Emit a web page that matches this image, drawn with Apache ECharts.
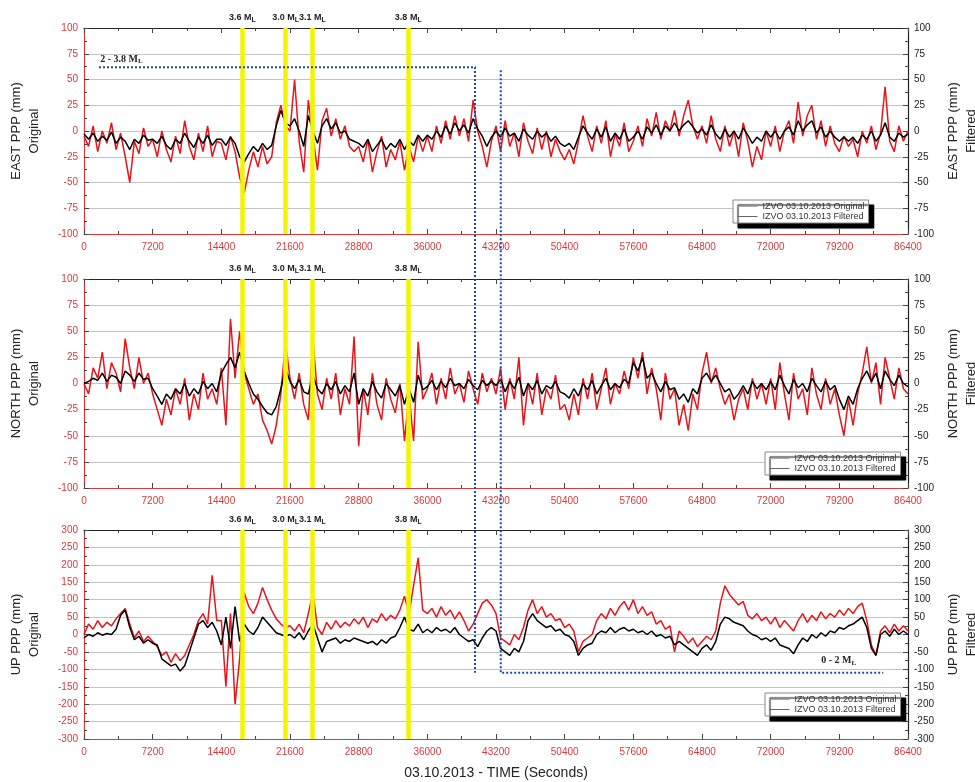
<!DOCTYPE html>
<html><head><meta charset="utf-8">
<script src="https://cdn.jsdelivr.net/npm/echarts@6/dist/echarts.min.js"></script>
<style>html,body{margin:0;padding:0;background:#fff}#c{width:975px;height:782px}</style>
</head><body><div id="c"></div>
<script>
// ---- data (sample step 480 s, 0..86400) ----
const STEP = 480;
const xTicks = [0,7200,14400,21600,28800,36000,43200,50400,57600,64800,72000,79200,86400];
const panelNames = ['EAST PPP (mm)','NORTH PPP (mm)','UP PPP (mm)'];
const seriesNames = ['IZVO 03.10.2013 Original','IZVO 03.10.2013 Filtered'];
const eventTimes = [16600, 21150, 23940, 34000];
const eventMags = ['3.6','3.0','3.1','3.8'];
const highBracket = [[1573,62,0],[41000,62,0],[41000,-110,2]];
const lowBracket = [[43700,59,0],[43700,-110,2],[83800,-110,2]];
const highLabel = ['2 - 3.8 M','L',1700,62,0];
const lowLabel = ['0 - 2 M','L',77300,-97,2];

const eastOrig = [
-5,-15,5,-20,0,-12,8,-18,-2,-25,-50,-10,-22,3,-15,
-8,-25,0,-18,-30,-5,-22,10,-15,-28,-2,-20,5,-25,-10,
-12,-28,-5,-20,-45,-60,-38,-20,-35,-15,-32,-25,8,25,5,
0,50,-10,-40,30,-5,-38,10,22,-5,12,-8,5,-15,-20,
-15,-30,-8,-40,-20,-5,-35,-18,-28,-10,-38,-15,-30,-5,-20,
-5,-20,5,-12,10,-8,15,-5,12,-10,30,0,-15,-35,-10,
5,-20,10,-15,-2,-25,8,-10,-22,3,-18,0,-25,-8,-20,
-28,-18,-32,-10,15,-5,-20,5,-12,10,-25,-3,-15,8,-20,
-10,5,-15,12,-5,18,-8,10,0,20,-5,15,30,5,-8,
5,-12,15,-8,-20,5,-15,0,-25,8,-10,-35,-15,-28,0,
-15,5,-20,0,10,-12,28,-5,15,25,-8,10,-15,5,-12,
-20,-5,-15,-8,-25,0,-12,5,-18,-2,43,-10,-20,5,-10,
0];
const eastFilt = [
-3,-8,-2,-10,-5,-9,-1,-12,-6,-10,-18,-8,-12,-4,-9,
-8,-12,-5,-14,-18,-8,-12,-2,-10,-16,-6,-12,-4,-14,-8,
-8,-14,-6,-12,-25,-30,-22,-15,-20,-12,-18,-14,5,20,8,
5,12,0,-15,15,0,-12,5,12,2,8,-2,0,-8,-10,
-12,-16,-8,-20,-14,-8,-18,-12,-16,-8,-18,-10,-14,-4,-10,
-4,-8,0,-6,5,-3,8,0,6,-2,12,2,-5,-15,-6,
0,-6,3,-5,-2,-10,2,-4,-8,0,-6,-2,-10,-5,-12,
-15,-12,-18,-6,5,-2,-8,2,-6,4,-10,-2,-8,2,-10,
-6,0,-8,4,-2,6,-4,5,0,8,0,6,10,4,-2,
2,-4,6,-3,-8,2,-6,0,-8,3,-4,-12,-6,-10,0,
-6,0,-8,0,4,-4,10,0,6,10,-2,4,-6,0,-6,
-10,-6,-10,-6,-12,-4,-8,0,-10,-4,8,-6,-10,-2,-6,
-3];
const northOrig = [
0,-10,15,5,30,-5,20,10,-8,43,15,-5,25,0,10,
-10,-25,-40,-15,-30,-5,-20,5,-35,-10,-25,10,-15,-5,-20,
15,-40,62,5,50,10,-5,-20,-10,-35,-45,-58,-40,-10,40,
5,-15,10,-20,-35,42,-10,-25,5,-15,10,-30,-5,-20,45,
-60,-5,-30,10,-20,-35,5,-15,-28,0,-55,-10,-55,40,-15,
-5,10,-20,5,-15,15,-10,0,-18,12,-5,-20,10,-8,5,
-10,15,-25,5,-15,25,-40,0,-20,10,-30,-5,-15,8,-25,
-20,-35,-10,-30,5,-15,10,-25,-5,15,-20,0,-10,12,-5,
25,5,30,-10,15,-5,-35,10,-15,-5,-40,-20,-45,-10,-25,
10,30,0,15,-5,-20,-10,-35,-15,-5,-25,5,-15,0,-20,
5,-25,20,-10,-35,10,-15,-5,-30,15,-10,-25,5,-20,-5,
-30,-50,-15,-40,-10,10,35,0,20,-20,25,5,-15,15,-5,
-10];
const northFilt = [
0,2,5,3,10,2,8,6,0,12,8,2,10,4,5,
-5,-12,-20,-10,-15,-5,-10,0,-12,-5,-10,2,-5,0,-8,
10,18,25,15,30,12,0,-10,-15,-22,-28,-30,-22,-5,15,
2,-5,4,-8,-10,8,-5,-10,0,-6,2,-10,-2,-8,10,
-20,-5,-12,2,-8,-14,0,-6,-12,-2,-20,-5,-18,8,-6,
-3,3,-6,2,-4,5,-2,0,-5,4,-2,-6,3,-2,2,
-2,4,-8,2,-5,6,-12,0,-6,3,-10,-2,-5,2,-8,
-10,-14,-5,-12,0,-6,3,-10,-2,5,-6,0,-4,4,0,
20,12,25,5,10,0,-8,2,-6,-4,-15,-10,-18,-5,-10,
5,10,2,8,0,-8,-5,-15,-10,-2,-10,2,-5,0,-6,
2,-6,8,-2,-10,4,-4,0,-8,5,-2,-8,2,-6,-2,
-15,-25,-12,-20,-5,5,12,2,10,-5,12,4,-2,8,0,
-3];
const upOrig = [
0,30,15,40,20,35,25,45,60,75,30,-10,10,-20,-5,
-20,-35,-60,-50,-80,-55,-75,-60,-30,0,40,60,30,170,40,
40,-150,60,-200,-70,120,80,60,90,135,100,70,45,30,20,
25,10,30,5,60,120,20,0,35,15,40,20,35,25,45,
30,50,20,45,35,60,40,55,45,70,110,60,140,220,70,
60,75,50,80,55,70,45,65,40,10,30,60,90,100,85,
60,-10,-20,-30,0,-15,20,70,100,60,80,50,60,40,45,
20,30,10,-50,-20,-10,0,40,60,45,75,55,80,95,70,
100,60,80,55,65,30,40,15,25,-50,10,-5,-25,-10,-35,
-20,-5,-15,10,90,140,115,100,85,95,55,45,60,40,50,
30,50,20,40,25,10,40,60,35,55,40,65,45,60,50,
70,55,75,60,80,90,40,-30,-60,10,25,5,30,10,25,
10];
const upFilt = [
-10,0,-5,5,-2,3,0,15,55,70,20,-15,-5,-25,-15,
-25,-30,-70,-80,-90,-85,-105,-90,-50,-10,30,40,20,35,10,
-30,50,-40,80,-20,30,10,0,20,50,35,20,5,0,-5,
0,-10,5,-15,10,30,-10,-50,-20,-15,-10,-25,-15,-20,-10,
-15,-20,-25,-20,-30,-15,-25,-10,-5,20,50,15,10,30,5,
15,5,20,10,15,5,20,0,-10,-20,-15,-35,-10,10,20,
10,-40,-50,-60,-40,-50,-20,40,60,40,30,20,25,10,15,
0,-5,-20,-60,-40,-30,-25,0,10,5,20,5,15,20,10,
15,5,10,0,10,-5,0,-10,-5,-30,-20,-30,-40,-50,-60,
-40,-30,-45,-20,30,50,45,35,30,25,10,0,-5,-15,-10,
-20,-10,-30,-35,-40,-55,-30,-10,-20,0,-10,5,-5,10,5,
20,15,25,30,40,50,20,-40,-60,0,10,-5,15,0,10,
0];
const yRanges = [[-100,100,25],[-100,100,25],[-300,300,50]];
const panelData = [[eastOrig,eastFilt],[northOrig,northFilt],[upOrig,upFilt]];

// ---- layout / style ----
const FONT = 'Liberation Sans';
const RED = '#d83a3a';
const gridTops = [28,279,530], gridHeights = [206,209,209];
const legendPos = [[733,200],[765,452],[765,693]];
const pairs = arr => arr.map((v,i)=>[i*STEP, v]);

const grid=[], xAxis=[], yAxis=[], series=[], legend=[];
for (let g=0; g<3; g++){
  grid.push({left:84, width:824, top:gridTops[g], height:gridHeights[g], containLabel:false, outerBoundsMode:'none'});
  const xb = {gridIndex:g, type:'value', min:0, max:86400, interval:7200,
    axisTick:{inside:true,length:5,lineStyle:{color:'#444'}},
    minorTick:{show:true,splitNumber:2,length:3,lineStyle:{color:'#444'}},
    splitLine:{show:false}};
  xAxis.push(Object.assign({}, xb, {position:'bottom',
    axisLine:{onZero:false,lineStyle:{color:RED,width:1.2}},
    axisLabel:{color:RED,fontSize:10,margin:8,fontFamily:FONT,formatter:v=>String(v)}}));
  xAxis.push(Object.assign({}, xb, {position:'top',
    axisLine:{onZero:false,lineStyle:{color:'#222',width:1.2}},
    axisLabel:{show:false}}));
  const [mn,mx,iv] = yRanges[g];
  const yb = {gridIndex:g, type:'value', min:mn, max:mx, interval:iv,
    axisTick:{show:true,inside:true,length:5,lineStyle:{color:'#444'}},
    minorTick:{show:true,splitNumber:2,length:3,lineStyle:{color:'#444'}},
    nameLocation:'middle', nameRotate:90,
    nameTextStyle:{fontSize:13,color:'#222',fontFamily:FONT,lineHeight:18}};
  yAxis.push(Object.assign({}, yb, {position:'left',
    axisLine:{show:true,onZero:false,lineStyle:{color:RED,width:1.2}},
    axisLabel:{color:RED,fontSize:10,fontFamily:FONT,margin:6},
    splitLine:{show:true,lineStyle:{color:'#c4c4c4',width:1}},
    name:panelNames[g]+'\nOriginal', nameGap:41}));
  yAxis.push(Object.assign({}, yb, {position:'right',
    axisLine:{show:true,onZero:false,lineStyle:{color:'#222',width:1.2}},
    axisLabel:{color:'#222',fontSize:10,fontFamily:FONT,margin:6},
    splitLine:{show:false},
    name:panelNames[g]+'\nFiltered', nameGap:33}));
  const [orig, filt] = panelData[g];
  series.push({type:'line', name:seriesNames[0], xAxisIndex:2*g, yAxisIndex:2*g,
    data:pairs(orig), showSymbol:false, symbol:'none', z:2,
    lineStyle:{color:'#e8141a',width:1.5}, itemStyle:{color:'#e8141a'}});
  series.push({type:'line', name:seriesNames[1], xAxisIndex:2*g, yAxisIndex:2*g,
    data:pairs(filt), showSymbol:false, symbol:'none', z:3,
    lineStyle:{color:'#000',width:1.5}, itemStyle:{color:'#000'}});
  series.push({type:'line', name:'events'+g, xAxisIndex:2*g, yAxisIndex:2*g,
    data:[], z:6,
    markLine:{silent:true, symbol:['none','none'], animation:false,
      lineStyle:{color:'#f4f400',width:4.5,type:'solid'},
      label:{show:true, position:'end', distance:4,
        formatter:p=>'{a|'+eventMags[p.dataIndex]+' M}{s|L}',
        rich:{a:{fontSize:9,fontWeight:'bold',color:'#222',fontFamily:FONT},
              s:{fontSize:7,fontWeight:'bold',color:'#222',fontFamily:FONT,padding:[6,0,0,0]}}},
      data:eventTimes.map(t=>({xAxis:t}))}});
  legend.push({left:legendPos[g][0], top:legendPos[g][1], orient:'vertical',
    data:[{name:seriesNames[0],itemStyle:{opacity:0},lineStyle:{color:'#aaa',width:1}},
          {name:seriesNames[1],itemStyle:{opacity:0},lineStyle:{color:'#666',width:1}}],
    itemGap:1, itemWidth:20, itemHeight:9, selectedMode:false,
    textStyle:{fontSize:9,color:'#333',fontFamily:FONT},
    backgroundColor:'#fff', borderColor:'#888', borderWidth:1, padding:[2,4,2,4],
    shadowColor:'#000', shadowOffsetX:5, shadowOffsetY:5, shadowBlur:1});
}

const chart = echarts.init(document.getElementById('c'), null, {renderer:'canvas'});
chart.setOption({animation:false, backgroundColor:'#fff', grid, xAxis, yAxis, series, legend});

// annotations positioned from data coordinates
const px = (t,v,g) => chart.convertToPixel({xAxisIndex:2*g, yAxisIndex:2*g}, [t,v]);
const dotted = pts => ({type:'polyline', z:100, shape:{points:pts.map(p=>px(p[0],p[1],p[2]))},
  style:{stroke:'#1b4c9c', lineWidth:2, lineDash:[2,2], fill:null}});
const lbl = (L) => { const p = px(L[2],L[3],L[4]); return {type:'text', z:100, x:p[0], y:p[1]-2,
  style:{text:'{a|'+L[0]+'}{b|'+L[1]+'}', verticalAlign:'bottom', align:'left',
    rich:{a:{fontSize:10,fontWeight:'bold',fontFamily:'Liberation Serif',fill:'#222'},
          b:{fontSize:7,fontWeight:'bold',fontFamily:'Liberation Serif',fill:'#222',padding:[5,0,0,0]}}}}; };
const tpos = px(43200, -300, 2);
chart.setOption({graphic:[dotted(highBracket), dotted(lowBracket), lbl(highLabel), lbl(lowLabel),
  {type:'text', x:tpos[0], y:tpos[1]+27, style:{text:'03.10.2013 - TIME (Seconds)', align:'center',
    verticalAlign:'top', fontSize:14, fontFamily:FONT, fill:'#222'}}]});
</script></body></html>
